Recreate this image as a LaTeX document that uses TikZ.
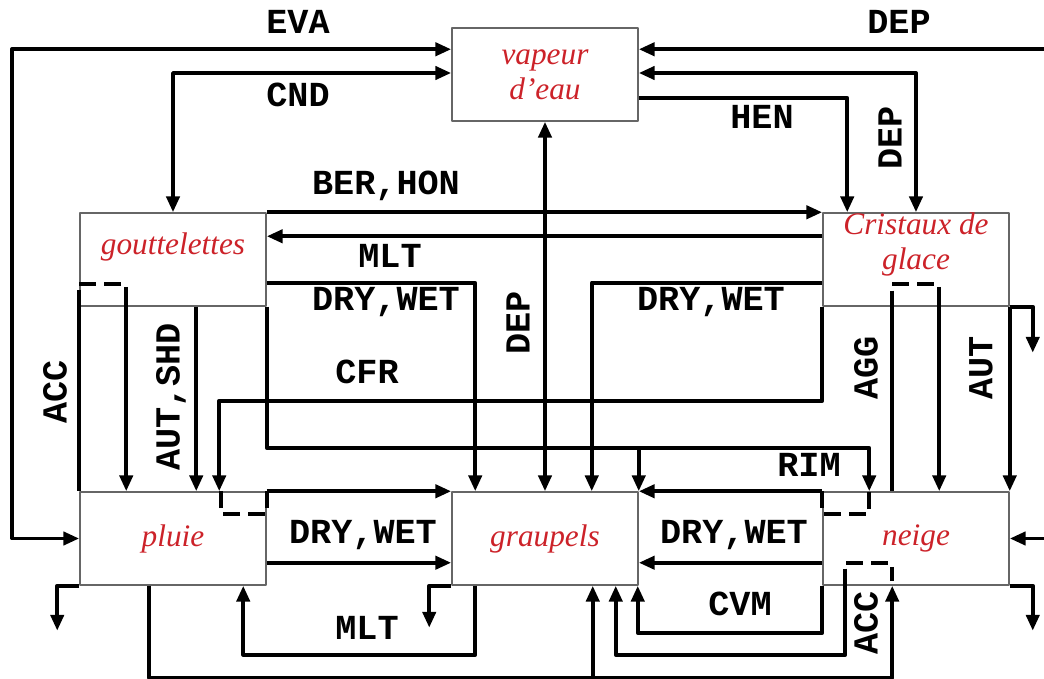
\documentclass[tikz,border=0pt]{standalone}
\usepackage{fontspec}
\newfontfamily\procfont{Liberation Mono}
\newfontfamily\specfont{Liberation Serif}
\usetikzlibrary{arrows.meta,calc}
\definecolor{specred}{RGB}{204,34,41}
\tikzset{
  box/.style={draw=gray!80!black,line width=0.4pt,minimum width=1.86cm,minimum height=0.93cm,
    inner sep=0pt,align=center,text=specred,font=\specfont\itshape\fontsize{8.9}{10}\selectfont},
  boxtext/.style={inner sep=0pt,align=center,text=specred,font=\specfont\itshape\fontsize{8.9}{10}\selectfont},
  proc/.style={inner sep=0pt,font=\procfont\bfseries\fontsize{10}{12}\selectfont},
  coll/.style={dash pattern=on 0.17cm off 0.08cm}
}
\begin{document}
\begin{tikzpicture}[x=0.01cm,y=-0.01cm,>={Triangle[length=4.5pt,width=3.7pt]},line width=1.1pt,line join=round]
  \useasboundingbox (0,0) rectangle (1044,679);

  % les six especes
  \node[box] (vap) at (545,74.5) {vapeur\\d’eau};
  \node[box] (gou) at (173,259.5) {};
  \node[box] (cri) at (916,259.5) {};
  \node[box] (plu) at (173,538.5) {pluie};
  \node[box] (gra) at (545,538.5) {graupels};
  \node[box] (nei) at (916,538.5) {neige};
  \node[boxtext] (goutxt) at ([yshift=0.125cm]gou.center) {gouttelettes};
  \node[boxtext] (critxt) at ([yshift=0.15cm]cri.center) {Cristaux de\\glace};

  % echanges avec la vapeur
  \draw[<->] ($(vap.north west)+(0,22)$) -| (12,538.5) -- (plu.west);
  \draw[<->] ($(vap.west)+(0,-1.5)$) -| (gou.north);
  \draw[<-] ($(vap.north east)+(0,22)$) -- ++(406,0);
  \draw[<->] ($(vap.east)+(0,-1.5)$) -| (cri.north);
  \draw[->] ($(vap.south east)+(0,-24)$) -| ($(cri.north west)+(25,0)$);
  \draw[<->] (vap.south) -- (gra.north);

  % gouttelettes et cristaux
  \draw[->] (gou.north east) -- (cri.north west);
  \draw[->] ($(cri.north west)+(0,24)$) -- ($(gou.north east)+(0,24)$);

  % vers les graupels et la neige
  \draw[->] ($(gou.south east)+(0,-24)$) -| ($(gra.north west)+(24,0)$);
  \draw[->] ($(cri.south west)+(0,-24)$) -| ($(gra.north east)+(-47,0)$);
  \draw[->] (cri.south west) -- ++(0,94) -| ($(plu.north west)+(140,0)$);
  \draw[->] (gou.south east) -- ++(0,141) -| ($(nei.north west)+(47,0)$);
  \draw[->] ($(gra.north east)+(0,-45)$) -- (gra.north east);

  % gouttelettes -> pluie
  \draw ($(gou.south west)+(0,-17)$) -- (plu.north west);
  \draw[coll] ($(gou.south west)+(0,-23)$) -- ++(47,0) -- ++(0,17);
  \draw[->] ($(gou.south west)+(47,-6)$) -- ($(plu.north west)+(47,0)$);
  \draw[->] ($(gou.south west)+(117,0)$) -- ($(plu.north west)+(117,0)$);

  % cristaux -> neige
  \draw ($(cri.south west)+(70,-16)$) -- ($(nei.north west)+(70,0)$);
  \draw[coll] ($(cri.south west)+(70,-23)$) -- ++(47,0) -- ++(0,17);
  \draw[->] ($(cri.south west)+(117,-6)$) -- ($(nei.north west)+(117,0)$);
  \draw[->] (cri.south east) -- (nei.north east);

  % pluie, neige -> graupels
  \draw[->] (plu.north east) -- (gra.north west);
  \draw[coll] (plu.north east) -- ++(0,23) -- ++(-46,0) -- ++(0,-23);
  \draw[->] ($(plu.south east)+(0,-23)$) -- ($(gra.south west)+(0,-23)$);
  \draw[->] (nei.north west) -- (gra.north east);
  \draw[coll] (nei.north west) -- ++(0,23) -- ++(47,0) -- ++(0,-23);
  \draw[->] ($(nei.south west)+(0,-23)$) -- ($(gra.south east)+(0,-23)$);

  % sous les boites
  \draw[->] (nei.south west) -- ++(0,47) -| ($(gra.south east)+(-1,0)$);
  \draw[coll] ($(nei.south west)+(24,-23)$) -- ++(46,0) -- ++(0,18);
  \draw[->] ($(nei.south west)+(23,-17)$) -- ++(0,86) -| ($(gra.south east)+(-23,0)$);
  \draw[->] ($(plu.south west)+(70,0)$) -- ++(0,92) -| ($(nei.south west)+(70,0)$);
  \draw[->] ($(gra.south east)+(-46,92)$) -- ($(gra.south east)+(-46,0)$);
  \draw[->] ($(gra.south west)+(24,0)$) -- ++(0,69) -| ($(plu.south west)+(164,0)$);

  % sedimentation
  \draw[->] (plu.south west) -| ++(-22,45);
  \draw[->] (gra.south west) -| ++(-22,42);
  \draw[->] (nei.south east) -| ++(23,45);
  \draw[->] (cri.south east) -| ++(23,46);
  \draw[<-] (nei.east) -- ++(35,0);

  % noms des processus
  \node[proc] (lEVA) at (298,22) {EVA};
  \node[proc] (lCND) at (298,95) {CND};
  \node[proc] (lDEPa) at (899,22) {DEP};
  \node[proc] (lHEN) at (762,117) {HEN};
  \node[proc,rotate=90] (lDEPb) at (890,138) {DEP};
  \node[proc] (lBER) at (386,186) {BER,HON};
  \node[proc] (lMLTa) at (390,256) {MLT};
  \node[proc] (lDRYa) at (386,302) {DRY,WET};
  \node[proc] (lDRYb) at (711,302) {DRY,WET};
  \node[proc,rotate=90] (lDEPc) at (518,323) {DEP};
  \node[proc] (lCFR) at (367,372) {CFR};
  \node[proc,rotate=90] (lACCa) at (55,392) {ACC};
  \node[proc,rotate=90] (lAUTa) at (171,397) {AUT,SHD};
  \node[proc,rotate=90] (lAGG) at (866,368) {AGG};
  \node[proc,rotate=90] (lAUTb) at (981,368) {AUT};
  \node[proc] (lRIM) at (809,465) {RIM};
  \node[proc] (lDRYc) at (363,535) {DRY,WET};
  \node[proc] (lDRYd) at (734,535) {DRY,WET};
  \node[proc] (lCVM) at (740,604) {CVM};
  \node[proc] (lMLTb) at (367,628) {MLT};
  \node[proc,rotate=90] (lACCb) at (866,623) {ACC};
\end{tikzpicture}
\end{document}
